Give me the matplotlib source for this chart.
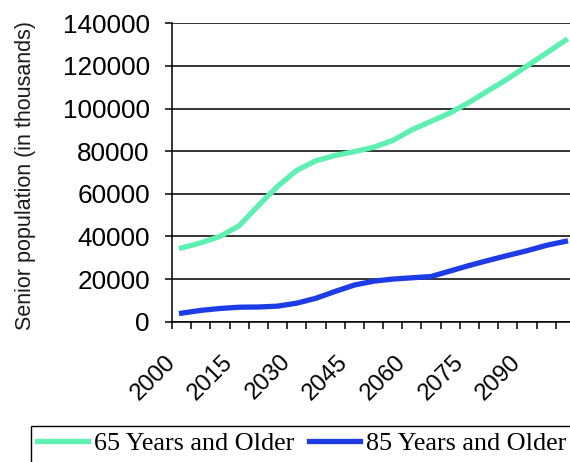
import matplotlib
matplotlib.use("Agg")
import matplotlib.pyplot as plt
from matplotlib.patches import Rectangle
import numpy as np

# years 2000..2100 in 5 year steps
years = [2000, 2005, 2010, 2015, 2020, 2025, 2030, 2035, 2040, 2045, 2050,
         2055, 2060, 2065, 2070, 2075, 2080, 2085, 2090, 2095, 2100]
age65 = [34600, 37000, 40000, 45000, 54500, 63500, 71000, 75500, 78000, 79800, 81800,
         85000, 90000, 94000, 98000, 103000, 108500, 114000, 120000, 126000, 132000]
age85 = [4000, 5300, 6200, 6800, 6900, 7300, 8700, 11000, 14200, 17200, 19000,
         20000, 20600, 21200, 23800, 26400, 28800, 31100, 33300, 35800, 37700]
yticks = [0, 20000, 40000, 60000, 80000, 100000, 120000, 140000]
label_every = 3

plt.rcParams['font.family'] = ['Liberation Sans', 'DejaVu Sans']

fig = plt.figure(figsize=(5.7, 4.62), dpi=100)
ax = fig.add_axes([172/570, 1-321.7/462, 403/570, (321.7-23.3)/462])

x = np.arange(len(years))
ax.plot(x, age65, color='#5ef0b0', lw=3.8, solid_joinstyle='round', label='65 Years and Older')
ax.plot(x, age85, color='#1e3ce6', lw=3.8, solid_joinstyle='round', label='85 Years and Older')

ax.set_xlim(-0.5, len(years) - 0.5)
ax.set_ylim(0, 140000)
ax.set_yticks(yticks)
ax.set_yticklabels([str(v) for v in yticks], fontsize=18.8)
ax.yaxis.grid(True, color='black', lw=1.1)
ax.set_axisbelow(True)

# tick marks between categories, labels on every third category
# (label anchors nudged half a category left, like the original)
ax.xaxis.remove_overlapping_locs = False
ax.set_xticks(np.arange(len(years) + 1) - 0.5)
ax.set_xticklabels([])
ax.set_xticks(x[::label_every] - 0.5, minor=True)
ax.set_xticklabels([str(y) for y in years[::label_every]], minor=True,
                   rotation=45, ha='right', va='center', rotation_mode='anchor', fontsize=17.3)
ax.tick_params(axis='x', which='minor', length=0, pad=26.5)
ax.tick_params(axis='x', which='major', length=5, width=1.1, direction='out')
ax.tick_params(axis='y', length=5, width=1.1, pad=11)

for s in ['top', 'right']:
    ax.spines[s].set_visible(False)
for s in ['left', 'bottom']:
    ax.spines[s].set_linewidth(1.1)
    ax.spines[s].set_color('black')

fig.text(26/570, 1-176/462, 'Senior population (in thousands)', rotation=90,
         ha='center', va='center', fontsize=15.5, color='#1a1a1a')

leg = fig.legend(loc='upper left', bbox_to_anchor=(31/570, 1-426/462), ncol=2,
                 frameon=False, borderaxespad=0, borderpad=0.23,
                 handlelength=1.95, handletextpad=0.23, columnspacing=0.57,
                 prop={'family': 'Liberation Serif', 'size': 18.8})
# legend box runs off the right and bottom edge of the picture
fig.patches.append(Rectangle((31/570, -0.05), 0.99, 1-426/462+0.05, transform=fig.transFigure,
                             fill=False, edgecolor='black', lw=1.0))

fig.savefig('out.png', dpi=100)
